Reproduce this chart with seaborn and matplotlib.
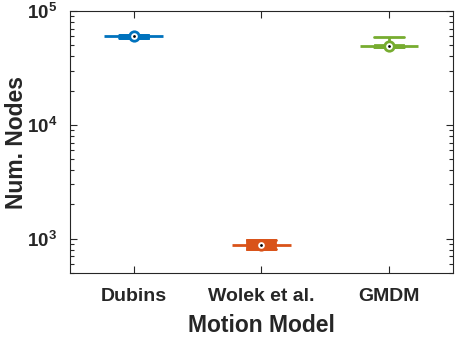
import numpy as np
import pandas as pd
import matplotlib
matplotlib.use("Agg")
import matplotlib.pyplot as plt
import seaborn as sns
from matplotlib.ticker import FuncFormatter

# data (five-number summaries per motion model)
categories = ["Dubins", "Wolek et al.", "GMDM"]
mins = [58600, 807, 48000]
q1 = [58600, 807, 48000]
medians = [60300, 885, 49300]
q3 = [62200, 973, 50500]
maxs = [62200, 973, 59200]
colors = ["#0072BD", "#D95319", "#77AC30"]

rows = []
for i, cat in enumerate(categories):
    for v in (mins[i], q1[i], medians[i], q3[i], maxs[i]):
        rows.append({"model": cat, "nodes": v})
df = pd.DataFrame(rows)

sns.set_style("ticks")
plt.rcParams["font.family"] = ["Liberation Sans", "DejaVu Sans"]
plt.rcParams["font.weight"] = "bold"
plt.rcParams["mathtext.fontset"] = "custom"
plt.rcParams["mathtext.rm"] = "Liberation Sans:bold"
plt.rcParams["mathtext.bf"] = "Liberation Sans:bold"
dark = "#262626"

fig = plt.figure(figsize=(4.57, 3.37), dpi=100)
ax = fig.add_axes([0.153, 0.190, 0.838, 0.777])

for cat, c in zip(categories, colors):
    sub = df[df["model"] == cat]
    # whiskers, caps and the wide median line
    sns.boxplot(data=sub, x="model", y="nodes", order=categories, color=c,
                linecolor=c, saturation=1, width=0.46, whis=(0, 100),
                linewidth=2, log_scale=True, ax=ax,
                boxprops={"visible": False},
                medianprops={"color": c, "linewidth": 2},
                whiskerprops={"color": c, "linewidth": 2},
                capprops={"color": c, "linewidth": 2})
    # the narrow filled box
    sns.boxplot(data=sub, x="model", y="nodes", order=categories, color=c,
                linecolor=c, saturation=1, width=0.22, whis=(0, 100),
                linewidth=2, log_scale=True, ax=ax,
                medianprops={"visible": False},
                whiskerprops={"visible": False},
                capprops={"visible": False})

# median markers: coloured ring, white inside, black dot
sns.stripplot(x=categories, y=medians, order=categories, hue=categories,
              palette=colors, size=8.8, jitter=False, linewidth=0,
              legend=False, ax=ax, zorder=5)
sns.stripplot(x=categories, y=medians, order=categories, color="white",
              size=4.8, jitter=False, linewidth=0, ax=ax, zorder=6)
sns.stripplot(x=categories, y=medians, order=categories, color="black",
              size=2.0, jitter=False, linewidth=0, ax=ax, zorder=7)

ax.set_yscale("log")
ax.set_ylim(500, 1e5)
ax.set_xlim(-0.5, 2.5)
ax.yaxis.set_major_formatter(
    FuncFormatter(lambda v, p: r"$\mathbf{10^{%d}}$" % round(np.log10(v))))

ax.set_xlabel("Motion Model", fontsize=16.5, fontweight="bold", color=dark,
              labelpad=6)
ax.set_ylabel("Num. Nodes", fontsize=16.5, fontweight="bold", color=dark)
ax.yaxis.set_label_coords(-0.11, 0.5)
ax.tick_params(axis="both", which="both", direction="in", top=True,
               right=True, colors=dark, width=0.8)
ax.tick_params(axis="x", labelsize=14)
ax.tick_params(axis="y", labelsize=13.5)
ax.tick_params(axis="both", which="major", length=5)
ax.tick_params(axis="y", which="minor", length=3)
ax.tick_params(axis="x", which="minor", bottom=False, top=False)
ax.tick_params(axis="x", pad=11)
ax.tick_params(axis="y", pad=9)
for lab in ax.get_xticklabels():
    lab.set_fontweight("bold")
for s in ax.spines.values():
    s.set_visible(True)
    s.set_color(dark)
    s.set_linewidth(0.8)

fig.savefig("out.png", dpi=100)
